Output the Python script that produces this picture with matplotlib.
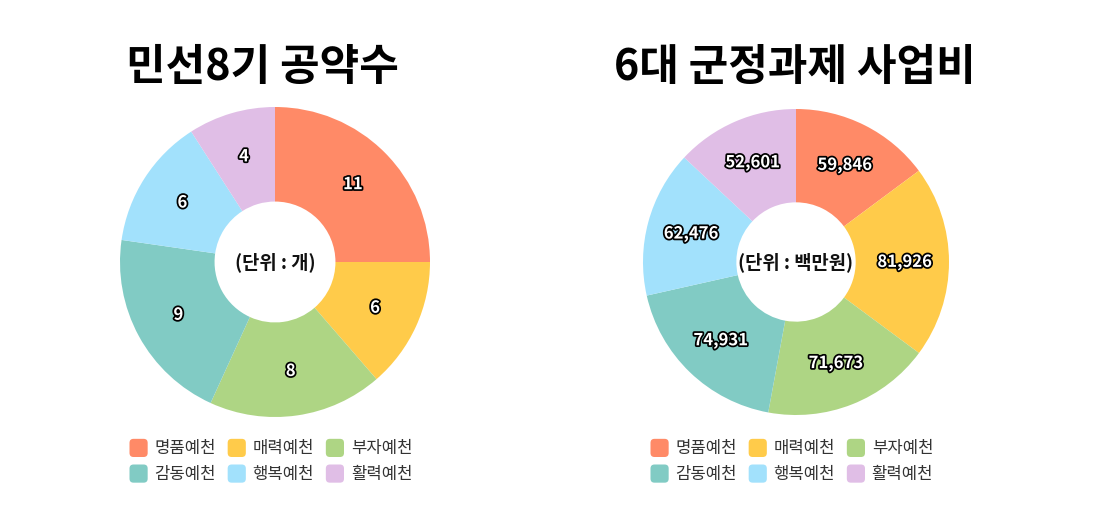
import matplotlib
matplotlib.use("Agg")
from matplotlib import pyplot as plt
from matplotlib.patches import Patch, FancyBboxPatch
from matplotlib.legend_handler import HandlerPatch
import matplotlib.patheffects as pe

plt.rcParams['font.family'] = ['Noto Sans CJK KR', 'DejaVu Sans']

categories = ["명품예천", "매력예천", "부자예천", "감동예천", "행복예천", "활력예천"]
pledges = [11, 6, 8, 9, 6, 4]
budget = [59846, 81926, 71673, 74931, 62476, 52601]
colors = ["#FF8A67", "#FFCB4A", "#AED584", "#81CBC4", "#A2E1FC", "#E0BEE6"]

W, H = 1095, 522


class RoundHandler(HandlerPatch):
    def create_artists(self, legend, orig_handle, xdescent, ydescent, width, height, fontsize, trans):
        s = min(width, height)
        x0 = -xdescent + (width - s) / 2
        y0 = -ydescent + (height - s) / 2
        p = FancyBboxPatch((x0, y0), s, s, boxstyle=f"round,pad=0,rounding_size={s * 0.22}",
                           facecolor=orig_handle.get_facecolor(), edgecolor="none")
        p.set_transform(trans)
        return [p]


def donut(cx, cy, r, values, title, title_x, unit):
    ax = fig.add_axes([(cx - r) / W, 1 - (cy + r) / H, 2 * r / W, 2 * r / H])
    wedges, _, autotexts = ax.pie(values, colors=colors, startangle=90, counterclock=False,
                                  radius=1, autopct="%1.0f", pctdistance=0.71,
                                  wedgeprops=dict(width=0.61, linewidth=0))
    for t, v in zip(autotexts, values):
        t.set_text(f"{v:,}")
        t.set_color("white")
        t.set_fontsize(12)
        t.set_fontweight("bold")
        t.set_path_effects([pe.withStroke(linewidth=2.5, foreground="black")])
    ax.text(0, 0, unit, ha="center", va="center", fontsize=13.5, fontweight="bold", color="#111111")
    ax.set_xlim(-1, 1)
    ax.set_ylim(-1, 1)
    ax.set_aspect("equal")
    ax.axis("off")
    fig.text(title_x / W, 1 - 67 / H, title, ha="center", va="center", fontsize=31, fontweight="heavy")
    # legend fills column by column, so reorder to read row by row
    order = [0, 3, 1, 4, 2, 5]
    handles = [Patch(facecolor=colors[i], label=categories[i]) for i in order]
    fig.legend(handles=handles, loc="center", bbox_to_anchor=((cx - 5) / W, 1 - 461 / H), ncol=3,
               frameon=False, fontsize=12, handlelength=1.3, handleheight=1.3,
               handletextpad=0.3, columnspacing=0.6, labelspacing=0.42,
               handler_map={Patch: RoundHandler()}, labelcolor="#333333")


fig = plt.figure(figsize=(W / 100, H / 100), dpi=100)
donut(275, 262, 155, pledges, "민선8기 공약수", 262, "(단위 : 개)")
donut(796, 262, 153, budget, "6대 군정과제 사업비", 795, "(단위 : 백만원)")
fig.savefig("out.png", dpi=100, facecolor="white")
